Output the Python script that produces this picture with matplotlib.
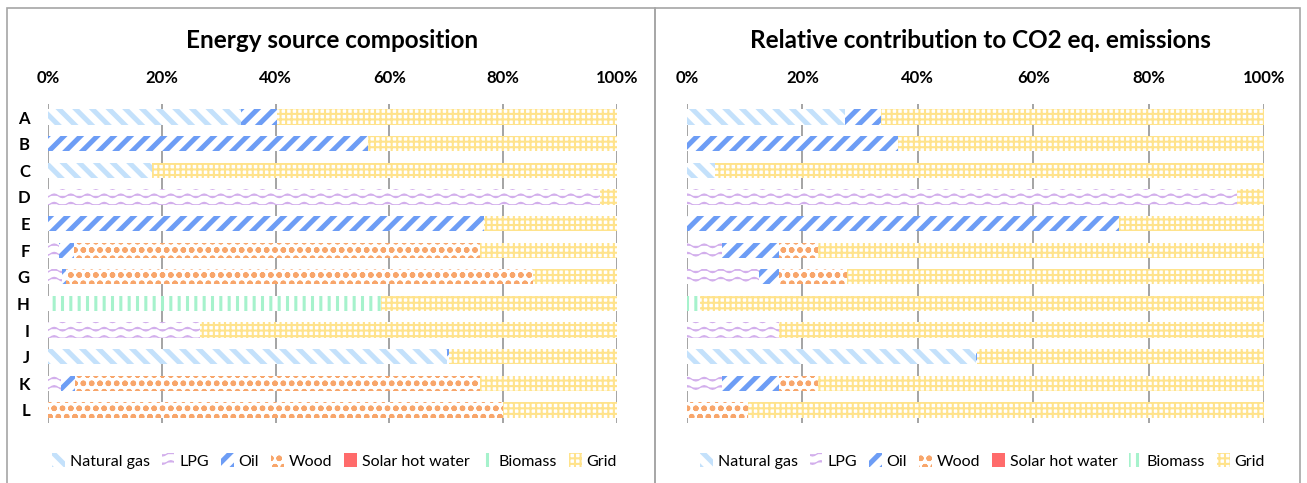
import numpy as np
import matplotlib
matplotlib.use("Agg")
import matplotlib.pyplot as plt
import matplotlib.hatch as mhatch
from matplotlib.path import Path
from matplotlib.patches import Rectangle


# wavy hatch for LPG (takes the '*' character instead of stars)
class WaveHatch(mhatch.HatchPatternBase):
    n_pts = 49

    def __init__(self, hatch, density):
        self.num_lines = int(hatch.count('*') * density)
        self.num_vertices = self.num_lines * self.n_pts

    def set_vertices_and_codes(self, vertices, codes):
        t = np.linspace(0, 1, self.n_pts)
        for i in range(self.num_lines):
            y0 = (i + 0.5) / self.num_lines
            sl = slice(i * self.n_pts, (i + 1) * self.n_pts)
            vertices[sl, 0] = t
            vertices[sl, 1] = y0 + 0.018 * np.sin(2 * np.pi * 6 * t)
            codes[sl] = Path.LINETO
            codes[i * self.n_pts] = Path.MOVETO


mhatch._hatch_types[:] = [h for h in mhatch._hatch_types if h is not mhatch.Stars] + [WaveHatch]

plt.rcParams['font.family'] = ['Lato', 'DejaVu Sans']

# ---- data ----
rows = ['A', 'B', 'C', 'D', 'E', 'F', 'G', 'H', 'I', 'J', 'K', 'L']
sources = ['Natural gas', 'LPG', 'Oil', 'Wood', 'Solar hot water', 'Biomass', 'Grid']

# left: energy source composition (%)
energy_gas   = [34.0, 0, 18.2, 0, 0, 0, 0, 0, 0, 70.1, 0, 0]
energy_lpg   = [0, 0, 0, 97.0, 0, 2.0, 2.4, 0, 26.7, 0, 2.3, 0]
energy_oil   = [6.3, 56.3, 0, 0, 76.6, 2.6, 0.8, 0, 0, 0.3, 2.4, 0]
energy_wood  = [0, 0, 0, 0, 0, 71.3, 82.1, 0, 0, 0, 71.2, 80.0]
energy_solar = [0] * 12
energy_bio   = [0, 0, 0, 0, 0, 0, 0, 58.6, 0, 0, 0, 0]
energy_grid  = [59.7, 43.7, 81.8, 3.0, 23.4, 24.1, 14.7, 41.4, 73.3, 29.6, 24.1, 20.0]

# right: relative contribution to CO2 eq. emissions (%)
co2_gas   = [27.4, 0, 4.9, 0, 0, 0, 0, 0, 0, 50.0, 0, 0]
co2_lpg   = [0, 0, 0, 95.4, 0, 6.1, 12.4, 0, 16.0, 0, 6.1, 0]
co2_oil   = [6.3, 36.6, 0, 0, 74.8, 9.9, 3.6, 0, 0, 0.3, 9.9, 0]
co2_wood  = [0, 0, 0, 0, 0, 6.7, 11.8, 0, 0, 0, 6.7, 10.5]
co2_solar = [0] * 12
co2_bio   = [0, 0, 0, 0, 0, 0, 0, 2.3, 0, 0, 0, 0]
co2_grid  = [66.3, 63.4, 95.1, 4.6, 25.2, 77.3, 72.2, 97.7, 84.0, 49.7, 77.3, 89.5]

energy = [energy_gas, energy_lpg, energy_oil, energy_wood, energy_solar, energy_bio, energy_grid]
co2 = [co2_gas, co2_lpg, co2_oil, co2_wood, co2_solar, co2_bio, co2_grid]

# style per source: colour, hatch, hatch linewidth
colors = ['#c4e1fb', '#d2aeec', '#6d9df5', '#f8a66b', '#ff6b6b', '#a6f2cc', '#ffe38c']
hatches = ['\\\\', '**', '//', 'oo', None, '||', '+++']
hatch_lw = [3.6, 0.9, 3.6, 1.6, 1.0, 2.2, 1.5]

fig = plt.figure(figsize=(13.07, 4.83), dpi=100)

# panel frames
for x0, x1 in [(7, 655), (655, 1300)]:
    fig.add_artist(Rectangle((x0 / 1307, -0.1), (x1 - x0) / 1307, 1.1 - 8 / 483,
                             transform=fig.transFigure, fill=False,
                             edgecolor='#a6a6a6', linewidth=1.2))

panels = [
    (energy, 'Energy source composition', 48, 617, 332),
    (co2, 'Relative contribution to CO2 eq. emissions', 687, 1264, 980),
]

for data, title, px0, px1, tx in panels:
    ax = fig.add_axes([px0 / 1307, 1 - 423.3 / 483, (px1 - px0) / 1307, (423.3 - 103.7) / 483])
    y = np.arange(len(rows))
    left = np.zeros(len(rows))
    for vals, name, c, h, hlw in zip(data, sources, colors, hatches, hatch_lw):
        vals = np.array(vals, dtype=float)
        if h is None:
            bars = ax.barh(y, vals, left=left, height=0.57, color=c, linewidth=0, label=name)
        else:
            bars = ax.barh(y, vals, left=left, height=0.57, facecolor='white',
                           edgecolor=c, linewidth=0, hatch=h, label=name)
            for b in bars:
                if hasattr(b, 'set_hatch_linewidth'):
                    b.set_hatch_linewidth(hlw)
        left += vals

    ax.set_xlim(0, 100)
    ax.set_ylim(len(rows) - 0.5, -0.5)
    ax.set_xticks(np.arange(0, 101, 20))
    ax.set_xticklabels([f'{v}%' for v in range(0, 101, 20)], fontsize=12, fontweight='bold')
    ax.xaxis.tick_top()
    ax.tick_params(axis='x', length=0, pad=13)
    ax.set_yticks(y)
    if px0 < 600:
        ax.set_yticklabels(rows, fontsize=12, fontweight='bold')
        ax.tick_params(axis='y', length=0, pad=13)
    else:
        ax.set_yticklabels([])
        ax.tick_params(axis='y', length=0)
    ax.grid(axis='x', color='#8c8c8c', linewidth=1.1)
    ax.set_axisbelow(True)
    for s in ax.spines.values():
        s.set_visible(False)

    fig.text(tx / 1307, 1 - 40 / 483, title, ha='center', va='center',
             fontsize=17.5, fontweight='bold')

    handles, labels = ax.get_legend_handles_labels()
    leg = fig.legend(handles, labels, loc='center', bbox_to_anchor=(tx / 1307 + 0.002, 1 - 461 / 483),
                     ncol=7, frameon=False, fontsize=11.5, handlelength=0.8, handleheight=1.0,
                     handletextpad=0.3, columnspacing=0.75)
    for hp, hlw in zip(leg.get_patches(), hatch_lw):
        if hasattr(hp, 'set_hatch_linewidth'):
            hp.set_hatch_linewidth(hlw)

fig.savefig('out.png', dpi=100)
